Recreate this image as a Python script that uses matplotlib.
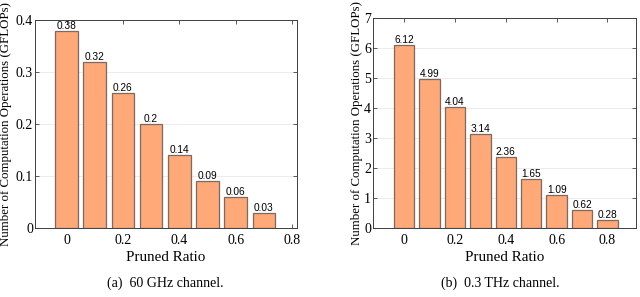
import numpy as np
import matplotlib.pyplot as plt

# Data
ratio_a = [0, 0.1, 0.2, 0.3, 0.4, 0.5, 0.6, 0.7]
gflops_a = [0.38, 0.32, 0.26, 0.2, 0.14, 0.09, 0.06, 0.03]
labels_a = ["0.38", "0.32", "0.26", "0.2", "0.14", "0.09", "0.06", "0.03"]

ratio_b = [0, 0.1, 0.2, 0.3, 0.4, 0.5, 0.6, 0.7, 0.8]
gflops_b = [6.12, 4.99, 4.04, 3.14, 2.36, 1.65, 1.09, 0.62, 0.28]
labels_b = ["6.12", "4.99", "4.04", "3.14", "2.36", "1.65", "1.09", "0.62", "0.28"]

xticks = [0, 0.2, 0.4, 0.6, 0.8]
xtick_labels = ["0", "0.2", "0.4", "0.6", "0.8"]

bar_color = '#FFA878'
edge_color = '#7a6a60'
serif = ['Liberation Serif', 'DejaVu Serif']
sans = ['Liberation Sans', 'DejaVu Sans']

fig = plt.figure(figsize=(6.4, 2.97), dpi=100)
ax1 = fig.add_axes([0.0547, 0.232, 0.409, 0.700])
ax2 = fig.add_axes([0.583, 0.232, 0.411, 0.706])


def style_axis(ax, x, y, labels, ylim, yticks, xlim, ylab_x):
    ax.bar(x, y, width=0.08, color=bar_color, edgecolor=edge_color, linewidth=0.9, zorder=3)
    for xi, yi, lab in zip(x, y, labels):
        ax.text(xi, yi, lab, ha='center', va='bottom', fontsize=7.3, family=sans, zorder=4)
    ax.set_xlim(*xlim)
    ax.set_ylim(*ylim)
    ax.set_xticks(xticks)
    ax.set_xticklabels(xtick_labels, family=serif, fontsize=10)
    ax.set_yticks(yticks)
    ax.set_yticklabels([("%g" % t) for t in yticks], family=serif, fontsize=10)
    ax.tick_params(direction='in', top=True, right=True, length=3, width=0.6, color='#404040')
    ax.tick_params(axis='x', pad=4)
    ax.tick_params(axis='y', pad=1.5)
    ax.yaxis.grid(True, color='#ececec', linewidth=0.7, zorder=0)
    ax.set_axisbelow(True)
    for s in ax.spines.values():
        s.set_color('#404040')
        s.set_linewidth(0.7)
    ax.set_xlabel("Pruned Ratio", family=serif, fontsize=10.8, labelpad=3)
    ylab = ax.set_ylabel("Number of Computation Operations (GFLOPs)", family=serif, fontsize=9.3)
    ylab.set_va('center')
    ax.yaxis.set_label_coords(ylab_x, 0.5)


style_axis(ax1, ratio_a, gflops_a, labels_a, (0, 0.4), [0, 0.1, 0.2, 0.3, 0.4], (-0.112, 0.817), -0.11)
style_axis(ax2, ratio_b, gflops_b, labels_b, (0, 7), [0, 1, 2, 3, 4, 5, 6, 7], (-0.122, 0.913), -0.06)

fig.text(165 / 640, 1 - 283 / 297, "(a)  60 GHz channel.", ha='center', va='center', family=serif, fontsize=10)
fig.text(500 / 640, 1 - 283 / 297, "(b)  0.3 THz channel.", ha='center', va='center', family=serif, fontsize=10)

plt.savefig('out.png', dpi=100)
